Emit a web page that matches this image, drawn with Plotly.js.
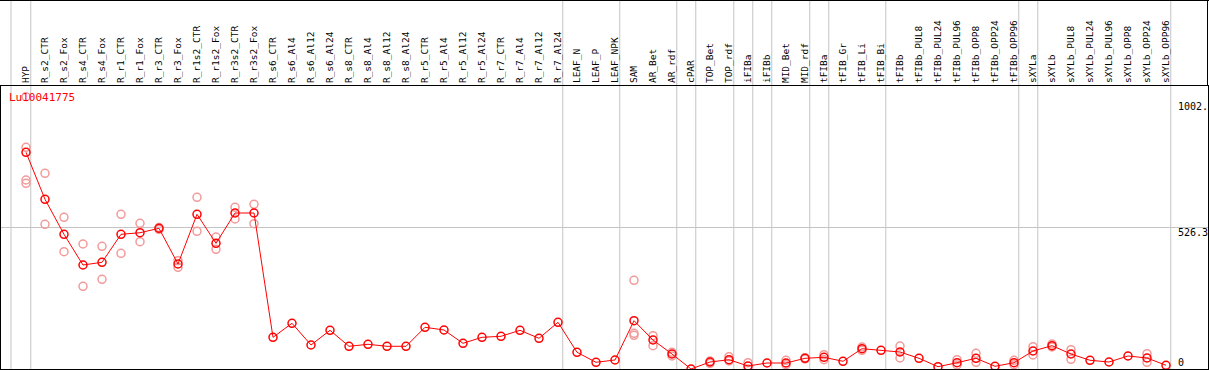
<!DOCTYPE html>
<html>
<head>
<meta charset="utf-8">
<script src="https://cdn.plot.ly/plotly-3.0.1.min.js"></script>
<style>
  html, body { margin: 0; padding: 0; background: #ffffff; }
  #chart { width: 1209px; height: 370px; }
</style>
</head>
<body>
<div id="chart"></div>
<script>
// ---- data ----
const categories = [
  "HYP",
  "R_s2_CTR", "R_s2_Fox", "R_s4_CTR", "R_s4_Fox", "R_r1_CTR", "R_r1_Fox",
  "R_r3_CTR", "R_r3_Fox", "R_r1s2_CTR", "R_r1s2_Fox", "R_r3s2_CTR", "R_r3s2_Fox",
  "R_s6_CTR", "R_s6_Al4", "R_s6_Al12", "R_s6_Al24",
  "R_s8_CTR", "R_s8_Al4", "R_s8_Al12", "R_s8_Al24",
  "R_r5_CTR", "R_r5_Al4", "R_r5_Al12", "R_r5_Al24",
  "R_r7_CTR", "R_r7_Al4", "R_r7_Al12", "R_r7_Al24",
  "LEAF_N", "LEAF_P", "LEAF_NPK",
  "SAM", "AR_Bet", "AR_rdf",
  "cPAR",
  "TOP_Bet", "TOP_rdf",
  "iFIBa", "iFIBb",
  "MID_Bet", "MID_rdf",
  "tFIBa", "tFIB_Gr", "tFIB_Li", "tFIB_Bi",
  "tFIBb", "tFIBb_PUL8", "tFIBb_PUL24", "tFIBb_PUL96", "tFIBb_OPP8", "tFIBb_OPP24", "tFIBb_OPP96",
  "sXYLa",
  "sXYLb", "sXYLb_PUL8", "sXYLb_PUL24", "sXYLb_PUL96", "sXYLb_OPP8", "sXYLb_OPP24", "sXYLb_OPP96"
];

const meanValues = [
  806.0,
  631.2, 501.0, 386.8, 396.9, 501.0, 506.9,
  523.3, 390.5, 575.4, 467.5, 580.2, 580.2,
  117.9, 170.0, 89.3, 143.9,
  84.4, 91.9, 84.4, 84.4,
  155.1, 145.1, 95.6, 117.9,
  121.6, 143.9, 114.2, 173.7,
  62.1, 24.9, 33.5,
  179.6, 107.9, 55.8,
  0.0,
  26.0, 34.6,
  11.2, 22.3,
  22.3, 39.8,
  43.5, 28.6, 75.5, 69.6,
  63.2, 39.8, 8.6, 23.4, 39.8, 10.0, 23.4,
  66.9,
  86.7, 55.8, 32.4, 26.0, 48.4, 40.9, 13.8
];

const replicateCategory = [
  "HYP", "HYP", "HYP", "HYP",
  "R_s2_CTR", "R_s2_CTR", "R_s2_Fox", "R_s2_Fox",
  "R_s4_CTR", "R_s4_CTR", "R_s4_Fox", "R_s4_Fox",
  "R_r1_CTR", "R_r1_CTR", "R_r1_Fox", "R_r1_Fox",
  "R_r3_CTR", "R_r3_CTR", "R_r3_Fox", "R_r3_Fox",
  "R_r1s2_CTR", "R_r1s2_CTR", "R_r1s2_Fox", "R_r1s2_Fox",
  "R_r3s2_CTR", "R_r3s2_CTR", "R_r3s2_Fox", "R_r3s2_Fox",
  "SAM", "SAM", "SAM",
  "AR_Bet", "AR_Bet", "AR_rdf", "AR_rdf",
  "TOP_Bet", "TOP_Bet", "TOP_rdf", "TOP_rdf",
  "iFIBa", "iFIBa",
  "MID_Bet", "MID_Bet", "MID_rdf", "MID_rdf",
  "tFIBa", "tFIBa", "tFIB_Li", "tFIB_Li",
  "tFIBb", "tFIBb",
  "tFIBb_PUL96", "tFIBb_PUL96", "tFIBb_OPP8", "tFIBb_OPP8", "tFIBb_OPP96", "tFIBb_OPP96",
  "sXYLa", "sXYLa", "sXYLb", "sXYLb",
  "sXYLb_PUL8", "sXYLb_PUL8", "sXYLb_OPP24", "sXYLb_OPP24"
];

const replicateValue = [
  1012.8, 824.6, 703.0, 690.7,
  727.9, 538.2, 564.2, 436.3,
  464.9, 307.6, 456.4, 333.6,
  575.4, 430.3, 541.9, 473.5,
  526.3, 518.9, 402.8, 378.3,
  638.6, 512.2, 491.0, 445.2,
  601.4, 557.9, 612.6, 540.4,
  329.9, 132.8, 125.3,
  123.9, 86.7, 62.1, 48.4,
  29.8, 21.2, 45.7, 29.8,
  23.4, 0.0,
  32.4, 16.0, 42.0, 37.2,
  53.2, 34.6, 81.8, 69.6,
  85.5, 40.9,
  34.6, 14.9, 58.4, 24.9, 32.4, 16.0,
  82.9, 52.1, 93.0, 81.8,
  71.8, 36.1, 56.9, 24.9
];

// last category of each group (separator drawn just after it)
const groupEnds = ["HYP", "R_r7_Al24", "LEAF_NPK", "AR_rdf", "cPAR", "TOP_rdf",
  "iFIBa", "iFIBb", "MID_rdf", "tFIBa", "tFIB_Bi", "tFIBb_OPP96", "sXYLa", "sXYLb_OPP96"];

const seriesName = "Lu10041775";
const yTickLabels = ["1002.", "526.3", "0"];
const yMid = 526.3;
const yMax = 1052.6;

// ---- layout helpers ----
const W = 1209, H = 370;
const M = { l: 1, r: 1, t: 86, b: 1 };
const plotW = W - M.l - M.r, plotH = H - M.t - M.b;
const colStep = 19;                       // px per category
const x0 = -(26 - M.l) / colStep;          // first category sits at pixel 26
const x1 = x0 + plotW / colStep;
const toPaperX = v => (v - x0) / (x1 - x0);
const pxToPaperY = p => (H - M.b - p) / plotH;
const pxToPaperX = p => (p - M.l) / plotW;

const gridGray = "#c4c4c4";
const shapes = [];
// separator before the first column
shapes.push({ type: "line", xref: "paper", yref: "paper",
  x0: toPaperX(-0.79), x1: toPaperX(-0.79), y0: 0, y1: pxToPaperY(0),
  line: { color: gridGray, width: 1 }, layer: "below" });
groupEnds.forEach(c => {
  const i = categories.indexOf(c) + 0.25;
  shapes.push({ type: "line", xref: "paper", yref: "paper",
    x0: toPaperX(i), x1: toPaperX(i), y0: 0, y1: pxToPaperY(0),
    line: { color: gridGray, width: 1 }, layer: "below" });
});
// header frame: top border and right border
shapes.push({ type: "line", xref: "paper", yref: "paper",
  x0: pxToPaperX(0), x1: pxToPaperX(1209), y0: pxToPaperY(0.5), y1: pxToPaperY(0.5),
  line: { color: "#000", width: 1 } });
shapes.push({ type: "line", xref: "paper", yref: "paper",
  x0: pxToPaperX(1207.5), x1: pxToPaperX(1207.5), y0: 1, y1: pxToPaperY(0),
  line: { color: "#000", width: 1 } });

const mono = "DejaVu Sans Mono, Liberation Mono, monospace";

const annotations = [
  { text: seriesName, xref: "paper", yref: "paper", x: pxToPaperX(7), y: pxToPaperY(97),
    xanchor: "left", yanchor: "middle", showarrow: false,
    font: { family: mono, size: 11, color: "#ff0000" } },
  { text: yTickLabels[0], xref: "paper", yref: "paper", x: pxToPaperX(1176), y: pxToPaperY(106.5),
    xanchor: "left", yanchor: "middle", showarrow: false,
    font: { family: mono, size: 10, color: "#000" } },
  { text: yTickLabels[1], xref: "paper", yref: "paper", x: pxToPaperX(1176), y: pxToPaperY(232.5),
    xanchor: "left", yanchor: "middle", showarrow: false,
    font: { family: mono, size: 10, color: "#000" } },
  { text: yTickLabels[2], xref: "paper", yref: "paper", x: pxToPaperX(1176), y: pxToPaperY(362),
    xanchor: "left", yanchor: "middle", showarrow: false,
    font: { family: mono, size: 10, color: "#000" } }
];

const traces = [
  {
    x: replicateCategory, y: replicateValue, type: "scatter", mode: "markers",
    marker: { symbol: "circle-open", size: 8, color: "#f29a9a", line: { width: 1.5, color: "#f29a9a" } },
    hoverinfo: "skip"
  },
  {
    x: categories, y: meanValues, type: "scatter", mode: "lines+markers", name: seriesName,
    line: { color: "#ff0000", width: 1 },
    marker: { symbol: "circle-open", size: 8, color: "#ff0000", line: { width: 1.5, color: "#ff0000" } }
  }
];

const layout = {
  width: W, height: H,
  margin: { l: M.l, r: M.r, t: M.t, b: M.b, pad: 0 },
  paper_bgcolor: "#ffffff", plot_bgcolor: "#ffffff",
  showlegend: false,
  xaxis: {
    type: "category", categoryorder: "array", categoryarray: categories,
    range: [x0, x1], side: "top", tickangle: -90,
    tickmode: "array", tickvals: categories, ticktext: categories,
    ticks: "", showgrid: false, zeroline: false,
    showline: true, mirror: true, linecolor: "#000", linewidth: 1,
    tickfont: { family: mono, size: 9.5, color: "#000" },
    fixedrange: true
  },
  yaxis: {
    range: [0, yMax], tickmode: "array", tickvals: [yMid], showticklabels: false,
    ticks: "", showgrid: true, gridcolor: gridGray, gridwidth: 1, zeroline: false,
    showline: true, mirror: true, linecolor: "#000", linewidth: 1,
    fixedrange: true
  },
  shapes: shapes,
  annotations: annotations
};

Plotly.newPlot("chart", traces, layout, { displayModeBar: false, staticPlot: true });
</script>
</body>
</html>
